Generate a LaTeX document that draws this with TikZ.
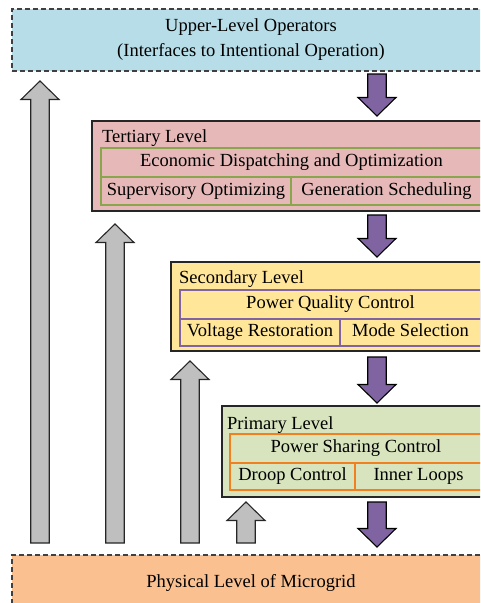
\documentclass[tikz,border=0pt]{standalone}
\usepackage{fontspec}
\setmainfont{Liberation Serif}
\usepackage{tikz}
\usetikzlibrary{calc}

\definecolor{opblue}{RGB}{183,222,232}
\definecolor{physorange}{RGB}{250,192,144}
\definecolor{terpink}{RGB}{230,185,184}
\definecolor{tergreen}{RGB}{137,165,78}
\definecolor{secyellow}{RGB}{255,230,153}
\definecolor{secpurple}{RGB}{128,100,162}
\definecolor{primgreen}{RGB}{215,228,189}
\definecolor{primorange}{RGB}{240,128,32}
\definecolor{upgray}{RGB}{191,191,191}

% block arrow from tail #1 to tip #2, head base offset #3, style #4
\newcommand{\blockarrow}[4]{%
  \draw[#4] let \p1=(#1), \p2=(#2) in
    (\x1-9.25pt,\y1) -- (\x1-9.25pt,\y2#3) -- (\x1-19pt,\y2#3) -- (\x2,\y2)
    -- (\x1+19pt,\y2#3) -- (\x1+9.25pt,\y2#3) -- (\x1+9.25pt,\y1) -- cycle;}

\begin{document}
\begin{tikzpicture}[x=1pt,y=-1pt,font=\fontsize{18.5}{25}\selectfont,
    opbox/.style={draw=black!75,dash pattern=on 5pt off 3pt,line width=1.2pt,inner sep=0pt},
    level/.style={draw=black!85,line width=1.1pt,inner sep=0pt},
    cell/.style={draw,line width=1.4pt,inner sep=0pt,outer sep=0pt,anchor=north west,
        text height=12.6pt,text depth=4pt},
    title/.style={anchor=west,inner sep=0pt,text height=12.6pt,text depth=4pt},
    uparr/.style={draw=black!85,fill=upgray,line width=1.1pt},
    downarr/.style={draw=black,fill=secpurple,line width=1.1pt}]

    \useasboundingbox (0,0) rectangle (480,603);
    \clip (0,0) rectangle (480,603);

    \node[opbox,fill=opblue,minimum width=478,minimum height=62,align=center] (upper) at (251,40)
        {Upper-Level Operators\\(Interfaces to Intentional Operation)};
    \node[opbox,fill=physorange,minimum width=478,minimum height=56] (phys) at (251,583)
        {Physical Level of Microgrid};

    % tertiary
    \node[level,fill=terpink,minimum width=398,minimum height=90] (tert) at (291,166) {};
    \node[title] (tertT) at (102,138) {Tertiary Level};
    \node[cell,draw=tergreen,minimum width=381,minimum height=29] (edo) at (101,148) {Economic Dispatching and Optimization};
    \node[cell,draw=tergreen,minimum width=190,minimum height=28] (sop) at (edo.south west) {Supervisory Optimizing};
    \node[cell,draw=tergreen,minimum width=191,minimum height=28] (gsc) at (sop.north east) {Generation Scheduling};

    % secondary
    \node[level,fill=secyellow,minimum width=319,minimum height=89] (sec) at (330.5,306.5) {};
    \node[title] (secT) at (179,279) {Secondary Level};
    \node[cell,draw=secpurple,minimum width=301,minimum height=29] (pqc) at (180,290) {Power Quality Control};
    \node[cell,draw=secpurple,minimum width=160,minimum height=27] (vre) at (pqc.south west) {Voltage Restoration};
    \node[cell,draw=secpurple,minimum width=141,minimum height=27] (mse) at (vre.north east) {Mode Selection};

    % primary
    \node[level,fill=primgreen,minimum width=268,minimum height=91] (prim) at (356,451.5) {};
    \node[title] (primT) at (227,425) {Primary Level};
    \node[cell,draw=primorange,minimum width=252,minimum height=29] (psc) at (230,434) {Power Sharing Control};
    \node[cell,draw=primorange,minimum width=125,minimum height=27] (drc) at (psc.south west) {Droop Control};
    \node[cell,draw=primorange,minimum width=127,minimum height=27] (ilo) at (drc.north east) {Inner Loops};

    % feedback arrows (up)
    \coordinate (ua1) at (40,543);  \coordinate (ua1tip) at (40,81);
    \coordinate (ua2) at (115,543); \coordinate (ua2tip) at (115,224);
    \coordinate (ua3) at (190,543); \coordinate (ua3tip) at (190,361);
    \coordinate (ua4) at (246,543); \coordinate (ua4tip) at (246,502);
    \blockarrow{ua1}{ua1tip}{-18.5pt}{uparr}
    \blockarrow{ua2}{ua2tip}{-18.5pt}{uparr}
    \blockarrow{ua3}{ua3tip}{-18.5pt}{uparr}
    \blockarrow{ua4}{ua4tip}{-18.5pt}{uparr}

    % command arrows (down)
    \coordinate (da1) at (377,74);  \coordinate (da1tip) at (377,116);
    \coordinate (da2) at (377,215); \coordinate (da2tip) at (377,257);
    \coordinate (da3) at (377,357); \coordinate (da3tip) at (377,403);
    \coordinate (da4) at (377,502); \coordinate (da4tip) at (377,547);
    \blockarrow{da1}{da1tip}{+18.5pt}{downarr}
    \blockarrow{da2}{da2tip}{+18.5pt}{downarr}
    \blockarrow{da3}{da3tip}{+18.5pt}{downarr}
    \blockarrow{da4}{da4tip}{+18.5pt}{downarr}

\end{tikzpicture}
\end{document}
